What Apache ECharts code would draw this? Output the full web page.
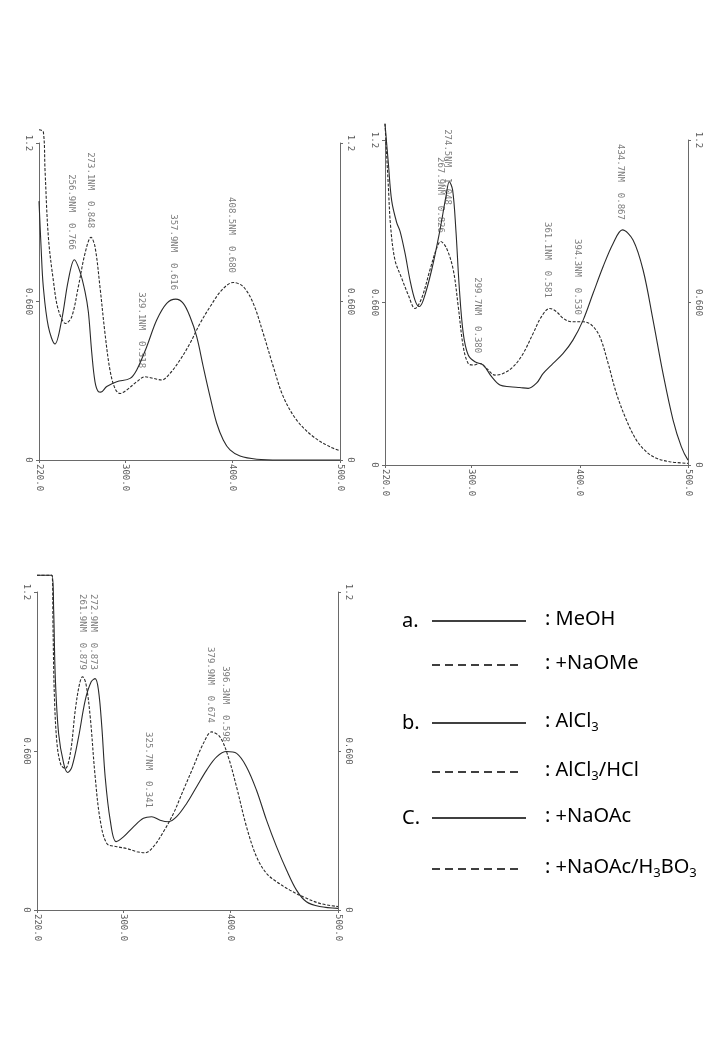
<!DOCTYPE html>
<html><head><meta charset="utf-8">
<script src="https://cdn.jsdelivr.net/npm/echarts@6/dist/echarts.min.js"></script>
<style>html,body{margin:0;padding:0;background:#fff}#c{width:720px;height:1040px}</style>
</head><body><div id="c"></div><script>
// ---- tick labels ----
const xTickValues = [220, 300, 400, 500];
const xTickLabels = ['220.0', '300.0', '400.0', '500.0'];
const yTickValues = [0, 0.6, 1.2];
const yTickLabels = ['0', '0.600', '1.2'];

// ---- legend / series names ----
const seriesNames = ['MeOH', '+NaOMe', 'AlCl3', 'AlCl3/HCl', '+NaOAc', '+NaOAc/H3BO3'];
const panelLetters = ['a.', 'b.', 'C.'];

// ---- panel a : wavelength (nm), absorbance ----
const aMeOH = [[220,0.98],[222,0.80],[224,0.656],[228.7,0.505],[234.9,0.439],[241.1,0.530],[247.3,0.681],[252.9,0.758],[258.1,0.713],[262.8,0.637],[265.9,0.561],[269.0,0.410],[272.1,0.296],[275.2,0.259],[277.5,0.257],[283.0,0.278],[292.3,0.296],[304.7,0.309],[310.9,0.341],[320.2,0.429],[329.5,0.530],[338.8,0.593],[347.2,0.609],[354.2,0.593],[360.5,0.542],[366.7,0.467],[372.8,0.353],[379.1,0.240],[385.3,0.139],[391.4,0.076],[397.7,0.038],[407.0,0.015],[422.5,0.003],[444,0.0],[500,0.0]];
const aNaOMe = [[220,1.25],[224,1.243],[225.6,1.098],[228.7,0.845],[233.3,0.681],[238,0.568],[244.8,0.517],[250.4,0.542],[256.6,0.656],[262.8,0.782],[268.4,0.843],[272.1,0.807],[276.7,0.656],[281.4,0.479],[286,0.341],[290.7,0.271],[295.3,0.252],[301.6,0.265],[310.9,0.296],[318.6,0.315],[326.3,0.309],[334.1,0.303],[341.9,0.328],[351.2,0.379],[360.5,0.442],[369.8,0.517],[379.1,0.580],[390,0.643],[400.7,0.672],[410,0.656],[419.3,0.593],[428.6,0.479],[438,0.353],[447.2,0.240],[459.7,0.151],[475.2,0.088],[490.7,0.050],[500,0.035]];
const aPeaks = [[250.4,0.795,'256.9NM  0.766'],[267.7,0.878,'273.1NM  0.848'],[315.5,0.348,'329.1NM  0.318'],[344.9,0.643,'357.9NM  0.616'],[399.3,0.708,'408.5NM  0.680']];

// ---- panel b ----
const bAlCl3 = [[220,1.26],[223.1,1.114],[226.2,0.975],[230.8,0.895],[234,0.862],[238.5,0.782],[243.1,0.683],[247.7,0.609],[251.5,0.585],[255.4,0.609],[263.1,0.720],[270.8,0.868],[276.3,0.991],[279.4,1.046],[282.5,1.015],[285.5,0.868],[288.6,0.658],[292.3,0.486],[296.9,0.406],[303.1,0.381],[310.8,0.369],[318.5,0.326],[326.2,0.295],[335.4,0.289],[344.6,0.286],[352.3,0.283],[360,0.302],[366.2,0.338],[373.8,0.369],[384.6,0.412],[393.8,0.462],[403.1,0.535],[412.3,0.634],[421.5,0.732],[430.8,0.818],[439.4,0.868],[449.2,0.831],[458.5,0.720],[467.7,0.535],[476.9,0.338],[486.2,0.166],[493.8,0.068],[500,0.018]];
const bAlCl3HCl = [[220,1.26],[223.1,1.028],[225.2,0.880],[229.2,0.757],[235.4,0.690],[241.5,0.628],[247.7,0.578],[253.8,0.615],[261.5,0.720],[267.7,0.800],[271.4,0.825],[276.9,0.800],[283.1,0.720],[287.7,0.585],[292.3,0.437],[296.9,0.375],[301.5,0.369],[307.7,0.375],[313.8,0.357],[321.5,0.332],[329.2,0.338],[338.5,0.363],[347.7,0.412],[356.9,0.486],[364.6,0.548],[372.3,0.578],[378.5,0.566],[384.6,0.542],[392.3,0.529],[403.1,0.529],[410.8,0.517],[418.5,0.474],[426.2,0.375],[433.8,0.265],[443.1,0.166],[452.3,0.092],[461.5,0.049],[470.8,0.025],[483.1,0.012],[500,0.006]];
const bPeaks = [[277.3,0.960,'274.5NM  1.048'],[270.8,0.857,'267.9NM  0.826'],[305,0.413,'299.7NM  0.380'],[369.7,0.617,'361.1NM  0.581'],[397.4,0.554,'394.3NM  0.530'],[437.2,0.905,'434.7NM  0.867']];

// ---- panel c ----
const cNaOAc = [[220,1.263],[233.9,1.263],[235.5,1.131],[237,0.880],[240.1,0.666],[244.8,0.553],[248.5,0.519],[252.5,0.540],[258.7,0.653],[264.9,0.792],[270.4,0.861],[274.1,0.873],[277.2,0.829],[280.3,0.691],[283.4,0.503],[288.1,0.339],[293.6,0.258],[300.4,0.276],[309.7,0.314],[319,0.346],[326.7,0.352],[334.5,0.339],[342.2,0.333],[349.9,0.352],[359.2,0.402],[368.5,0.465],[377.8,0.528],[387.1,0.578],[396.4,0.598],[405.7,0.591],[414.9,0.540],[424.2,0.452],[433.5,0.339],[442.8,0.239],[452.1,0.151],[461.4,0.075],[470.6,0.031],[483,0.013],[500,0.006]];
const cNaOAcH3BO3 = [[220,1.263],[233.9,1.263],[234.9,1.068],[236.1,0.817],[238.6,0.628],[242.3,0.547],[246.3,0.534],[251,0.591],[255.6,0.754],[259.6,0.854],[262.4,0.880],[265.5,0.854],[269.5,0.729],[274.1,0.503],[278.8,0.339],[285,0.251],[294.3,0.239],[303.5,0.232],[312.8,0.220],[320.6,0.216],[328.3,0.239],[337.6,0.295],[346.9,0.364],[356.1,0.452],[365.4,0.540],[374.7,0.628],[382.4,0.672],[390.2,0.653],[397.9,0.578],[405.6,0.465],[414.9,0.314],[424.2,0.201],[433.5,0.138],[442.8,0.107],[455.2,0.075],[467.6,0.050],[483,0.025],[500,0.013]];
const cPeaks = [[261.8,0.906,'261.9NM  0.879'],[272.5,0.906,'272.9NM  0.873'],[323.6,0.385,'325.7NM  0.341'],[380.9,0.706,'379.9NM  0.674'],[394.8,0.634,'396.3NM  0.598']];

// ---- build ----
const AX = '#6a6a6a', LINE = '#2a2a2a', TXT = '#5a5a5a';
const MONO = 'DejaVu Sans Mono';
const grids = [
  {left: 39, top: 143, width: 301, height: 317},
  {left: 385, top: 140, width: 303, height: 325},
  {left: 37, top: 592, width: 301, height: 318}
];
const panels = [
  {solid: aMeOH, dashed: aNaOMe, peaks: aPeaks},
  {solid: bAlCl3, dashed: bAlCl3HCl, peaks: bPeaks},
  {solid: cNaOAc, dashed: cNaOAcH3BO3, peaks: cPeaks}
];
const xAxes = [], yAxes = [], series = [];
grids.forEach((g, i) => {
  xAxes.push({
    type: 'value', gridIndex: i, min: 220, max: 500,
    splitLine: {show: false},
    axisLine: {show: true, onZero: false, lineStyle: {color: AX, width: 1}},
    axisTick: {show: true, customValues: xTickValues, length: 3, lineStyle: {color: AX}},
    axisLabel: {customValues: xTickValues, rotate: -90, margin: 4,
      formatter: v => xTickLabels[xTickValues.indexOf(v)],
      fontFamily: MONO, fontSize: 9, color: TXT}
  });
  ['left', 'right'].forEach(pos => {
    yAxes.push({
      type: 'value', gridIndex: i, position: pos, min: 0, max: 1.2,
      splitLine: {show: false},
      axisLine: {show: true, lineStyle: {color: AX, width: 1}},
      axisTick: {show: true, customValues: yTickValues, length: 3, lineStyle: {color: AX}},
      axisLabel: {customValues: yTickValues, rotate: -90, margin: 6,
        formatter: v => yTickLabels[yTickValues.indexOf(v)],
        fontFamily: MONO, fontSize: 9, color: TXT}
    });
  });
  const p = panels[i];
  [['solid', p.solid, 'solid', seriesNames[i*2]], ['dashed', p.dashed, [3, 1.6], seriesNames[i*2+1]]].forEach(s => {
    series.push({
      type: 'line', name: s[3], xAxisIndex: i, yAxisIndex: i*2, data: s[1],
      showSymbol: false, smooth: 0.35, clip: false, silent: true,
      lineStyle: {color: LINE, width: 1.1, type: s[2]}
    });
  });
  series.push({
    type: 'scatter', xAxisIndex: i, yAxisIndex: i*2, silent: true,
    symbolSize: 1, itemStyle: {color: 'rgba(0,0,0,0)'},
    data: p.peaks.map(d => ({value: [d[0], d[1]], name: d[2]})),
    label: {show: true, formatter: '{b}', position: 'inside', align: 'right', verticalAlign: 'middle',
      rotate: -90, fontFamily: MONO, fontSize: 9, color: TXT}
  });
});

// ---- legend drawn as graphic ----
const LF = 'Noto Sans';
const rows = [
  {y: 621, dash: false}, {y: 665, dash: true},
  {y: 723, dash: false}, {y: 772, dash: true},
  {y: 818, dash: false}, {y: 869, dash: true}
];
const graphic = [];
rows.forEach((r, k) => {
  if (!r.dash) {
    graphic.push({type: 'text', x: 402, y: r.y, style: {text: panelLetters[k/2], fontFamily: LF, fontSize: 20, fill: '#000', align: 'left', verticalAlign: 'middle'}});
  }
  graphic.push({type: 'line', shape: {x1: 432, y1: r.y, x2: r.dash ? 520 : 526, y2: r.y},
    style: {stroke: '#000', lineWidth: 1.6, lineDash: r.dash ? [8, 5] : null}});
  graphic.push({type: 'text', x: 545, y: r.y - 2, style: {
    text: ': ' + seriesNames[k].replace(/(\d)/g, '{s|$1}'),
    fontFamily: LF, fontSize: 20, fill: '#000', align: 'left', verticalAlign: 'middle',
    rich: {s: {fontFamily: LF, fontSize: 13, fill: '#000', padding: [12, 0, 0, 0]}}
  }});
});

const chart = echarts.init(document.getElementById('c'), null, {renderer: 'canvas'});
chart.setOption({
  animation: false,
  backgroundColor: '#fff',
  grid: grids,
  xAxis: xAxes,
  yAxis: yAxes,
  series: series,
  graphic: graphic
});
</script></body></html>
